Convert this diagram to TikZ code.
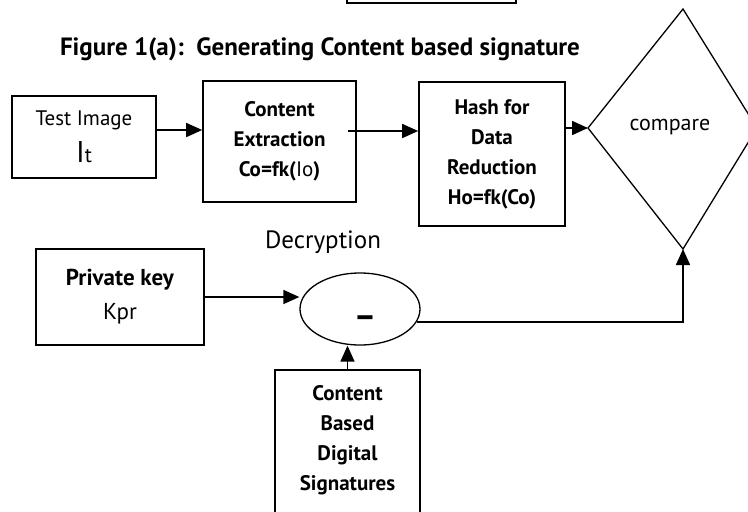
\documentclass[tikz,border=0pt]{standalone}
\usepackage{fontspec}
\setmainfont{PT Sans}
\usetikzlibrary{arrows.meta,shapes.geometric}

\begin{document}
\begin{tikzpicture}[x=1pt, y=-1pt,
		box/.style={draw, line width=1.6pt, inner sep=0pt, align=center},
		arr/.style={line width=1.6pt, -{Triangle[length=16pt,width=14pt]}},
		thinline/.style={line width=1.3pt},
		bf/.style={font=\bfseries\fontsize{21}{30}\selectfont}]
		%%%%% START %%%%%
		\useasboundingbox (0, 0) rectangle (748, 512);
		
		% box cut off by the top edge
		\draw[line width=1.6pt] (347, -30) rectangle (516, 3);
		
		\node[font=\bfseries\fontsize{25}{28}\selectfont] (title) at (320, 49) {Figure 1(a):\ \ Generating Content based signature};
		
		\node[box, minimum width=144pt, minimum height=82pt, font=\fontsize{21}{37}\selectfont] (tst) at (84, 137)
		{Test Image\\{\fontsize{30}{37}\selectfont I}{\fontsize{21}{37}\selectfont t}};
		\node[box, bf, minimum width=153pt, minimum height=121pt] (ext) at (279.5, 141.5)
		{Content\\Extraction\\Co=fk({\mdseries Io})};
		\node[box, bf, minimum width=146pt, minimum height=144pt] (hsh) at (492, 154)
		{Hash for\\Data\\Reduction\\Ho=fk(Co)};
		
		\draw[thinline] (683, 9) coordinate (cmpN) -- (757, 128) coordinate (cmpE)
		-- (683, 249) coordinate (cmpS) -- (588, 128) coordinate (cmpW) -- cycle;
		\node[font=\fontsize{22}{24}\selectfont] (cmp) at (670, 127) {compare};
		
		\draw[arr] ([yshift=7pt]tst.east) -- ([yshift=7pt]tst.east -| ext.west);
		\draw[arr] ([xshift=-9pt, yshift=10.5pt]ext.east) -- ([yshift=10.5pt]ext.east -| hsh.west);
		\draw[arr] (hsh.east |- cmpW) -- (cmpW);
		
		\node[box, minimum width=168pt, minimum height=96pt, font=\fontsize{23}{34}\selectfont] (pk) at (120, 297)
		{\textbf{Private key}\\Kpr};
		\node[font=\fontsize{25}{28}\selectfont] (dec) at (323, 242) {Decryption};
		\node[draw, thinline, ellipse, minimum width=120pt, minimum height=72pt, inner sep=0pt] (ell) at (360, 309) {};
		\node[font=\bfseries\fontsize{34}{36}\selectfont] (minus) at (365, 322) {–};
		
		\node[box, bf, anchor=north, minimum width=145pt, inner ysep=16pt, text depth=30pt] (cbs) at (347.5, 369)
		{Content\\Based\\Digital\\Signatures};
		
		\draw[arr] (pk.east) -- (pk.east -| ell.west);
		\draw[arr] (cbs.north) -- (cbs.north |- ell.south);
		\draw[arr] (ell.-13) -| (cmpS);
		%%%%% END %%%%%
	\end{tikzpicture}
\end{document}
